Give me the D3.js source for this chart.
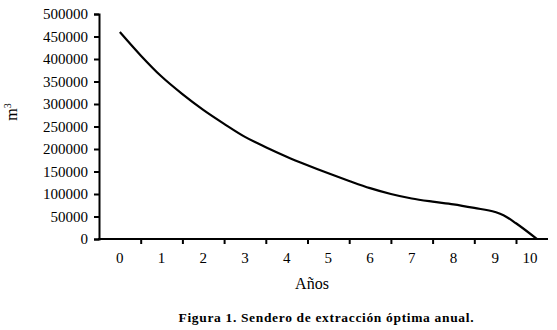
<!DOCTYPE html>
<html>
<head>
<meta charset="utf-8">
<script src="https://cdn.jsdelivr.net/npm/d3@7"></script>
<style>
  body { margin: 0; background: #fff; }
  svg { display: block; }
  text { font-family: "Liberation Serif", "Times New Roman", serif; fill: #000; }
</style>
</head>
<body>
<div id="chart"></div>
<script>
// chart data
var years = [0, 0.5, 1, 1.5, 2, 2.5, 3, 3.5, 4, 4.5, 5, 5.5, 6, 6.5, 7, 7.5, 8, 8.5, 9, 9.2, 9.5, 10];
var volume = [460000, 408000, 361000, 322000, 287000, 256000, 227000, 204000, 183000, 164000,
    146000, 129000, 113000, 100000, 90000, 83000, 77000, 69000, 60000, 53000, 35000, 0];
var yTicks = [0, 50000, 100000, 150000, 200000, 250000, 300000, 350000, 400000, 450000, 500000];
var xLabels = ["0", "1", "2", "3", "4", "5", "6", "7", "8", "9", "10"];

var svgWidth = 557;
var svgHeight = 330;

var svg = d3.select("#chart")
    .append("svg")
    .attr("width", svgWidth)
    .attr("height", svgHeight);

// scales
var xScale = d3.scaleLinear()
    .domain([-0.5, 10.5])
    .range([99, 99 + 11 * 41.7]);

var yScale = d3.scaleLinear()
    .domain([0, 500000])
    .range([239, 14]);

var axisEnd = 548;

// y axis
var yAxis = svg.append("g")
    .attr("transform", "translate(99,0)")
    .call(d3.axisLeft(yScale)
        .tickValues(yTicks)
        .tickFormat(d3.format("d"))
        .tickSizeOuter(0)
        .tickSize(5)
        .tickPadding(6));

yAxis.select(".domain").attr("stroke-width", 2);
yAxis.selectAll(".tick line").attr("stroke-width", 2);
yAxis.selectAll("text")
    .style("font-family", "'Liberation Serif', serif")
    .style("font-size", "15px");

// x axis, ticks sit between the category labels
var xAxis = svg.append("g")
    .attr("transform", "translate(0,239)")
    .call(d3.axisBottom(xScale)
        .tickValues(d3.range(0, 10).map(d => d + 0.5))
        .tickFormat("")
        .tickSizeOuter(0)
        .tickSize(5));

xAxis.select(".domain")
    .attr("d", "M98,0H" + axisEnd)
    .attr("stroke-width", 2);
xAxis.selectAll(".tick line").attr("stroke-width", 2);

svg.append("g")
    .selectAll("text")
    .data(xLabels)
    .enter()
    .append("text")
    .attr("x", (d, i) => i < 10 ? xScale(i) : (xScale(9.5) + axisEnd) / 2 - 2)
    .attr("y", 263)
    .attr("text-anchor", "middle")
    .style("font-size", "15px")
    .text(d => d);

// line
var line = d3.line()
    .x(d => xScale(d[0]))
    .y(d => yScale(d[1]))
    .curve(d3.curveMonotoneX);

svg.append("path")
    .datum(years.map((d, i) => [d, volume[i]]))
    .attr("d", line)
    .attr("fill", "none")
    .attr("stroke", "#000")
    .attr("stroke-width", 2.2)
    .attr("stroke-linejoin", "round");

// axis titles
var yTitle = svg.append("text")
    .attr("transform", "translate(17,112) rotate(-90)")
    .attr("text-anchor", "middle")
    .style("font-size", "16px");
yTitle.append("tspan").text("m");
yTitle.append("tspan")
    .attr("dy", -6)
    .style("font-size", "10px")
    .text("3");

svg.append("text")
    .attr("x", 312)
    .attr("y", 289)
    .attr("text-anchor", "middle")
    .style("font-size", "16px")
    .text("Años");

svg.append("text")
    .attr("x", 326)
    .attr("y", 322)
    .attr("text-anchor", "middle")
    .attr("textLength", 295)
    .attr("lengthAdjust", "spacing")
    .style("font-size", "13.5px")
    .style("font-weight", "bold")
    .text("Figura 1. Sendero de extracción óptima anual.");
</script>
</body>
</html>
